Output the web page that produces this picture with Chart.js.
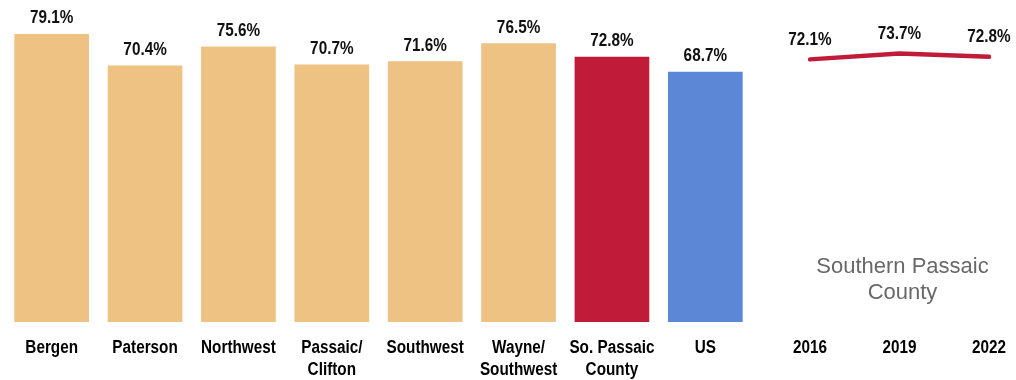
<!DOCTYPE html>
<html>
<head>
<meta charset="utf-8">
<script src="https://cdn.jsdelivr.net/npm/chart.js@4.4.0/dist/chart.umd.min.js"></script>
<style>
  body { margin: 0; background: #fff; }
  #wrap { position: relative; width: 1016px; height: 380px; }
  #graficoBarras { position: absolute; left: 0; top: 0; }
  #graficoLinha { position: absolute; left: 760px; top: 0; }
</style>
</head>
<body>
<div id="wrap">
  <canvas id="graficoBarras" width="760" height="380"></canvas>
  <canvas id="graficoLinha" width="256" height="380"></canvas>
</div>
<script>
// dados
const regioes = ['Bergen', 'Paterson', 'Northwest', ['Passaic/', 'Clifton'], 'Southwest', ['Wayne/', 'Southwest'], ['So. Passaic', 'County'], 'US'];
const taxas = [79.1, 70.4, 75.6, 70.7, 71.6, 76.5, 72.8, 68.7];
const coresBarras = ['#EDC283', '#EDC283', '#EDC283', '#EDC283', '#EDC283', '#EDC283', '#C01C3A', '#5B87D6'];
const anos = ['2016', '2019', '2022'];
const taxasSoPassaic = [72.1, 73.7, 72.8];
const tituloLinha = ['Southern Passaic', 'County'];

const fonte = "'Liberation Sans', Arial, sans-serif";
const estreito = 0.85; // fonte do original é condensada
const yMax = 88.4;
const alturaEixo = 58;

function textoEstreito(ctx, texto, x, y) {
    ctx.save();
    ctx.translate(x, y);
    ctx.scale(estreito, 1);
    ctx.fillText(texto, 0, 0);
    ctx.restore();
}

// rótulos de valor acima das marcas
const rotulos = {
    id: 'rotulos',
    afterDatasetsDraw(chart, args, opts) {
        const ctx = chart.ctx;
        ctx.save();
        ctx.font = 'bold 18px ' + fonte;
        ctx.fillStyle = '#111';
        ctx.textAlign = 'center';
        ctx.textBaseline = 'alphabetic';
        const valores = chart.data.datasets[0].data;
        chart.getDatasetMeta(0).data.forEach((el, i) => {
            textoEstreito(ctx, valores[i].toFixed(1) + '%', el.x, el.y - opts.offset);
        });
        ctx.restore();
    }
};

// rótulos do eixo x (desenhados à mão para ficarem condensados)
const rotulosEixo = {
    id: 'rotulosEixo',
    afterDraw(chart) {
        const ctx = chart.ctx;
        const escala = chart.scales.x;
        const base = chart.chartArea.bottom;
        ctx.save();
        ctx.font = 'bold 18px ' + fonte;
        ctx.fillStyle = '#000';
        ctx.textAlign = 'center';
        ctx.textBaseline = 'alphabetic';
        chart.data.labels.forEach((rotulo, i) => {
            const x = escala.getPixelForValue(i);
            const linhas = Array.isArray(rotulo) ? rotulo : [rotulo];
            linhas.forEach((linha, j) => {
                textoEstreito(ctx, linha, x, base + 31 + j * 21.5);
            });
        });
        ctx.restore();
    }
};

// texto cinza no gráfico de linha
const legendaTexto = {
    id: 'legendaTexto',
    afterDraw(chart) {
        const ctx = chart.ctx;
        const area = chart.chartArea;
        ctx.save();
        ctx.font = "22px 'Liberation Sans', Arial, sans-serif";
        ctx.fillStyle = '#686868';
        ctx.textAlign = 'center';
        ctx.textBaseline = 'middle';
        const x = (area.left + area.right) / 2 + 3;
        ctx.fillText(tituloLinha[0], x, area.bottom - 55);
        ctx.fillText(tituloLinha[1], x, area.bottom - 29);
        ctx.restore();
    }
};

const eixoX = {
    grid: { display: false, drawTicks: false },
    border: { display: false },
    ticks: { display: false },
    afterFit: (axis) => { axis.height = alturaEixo; }
};

new Chart(document.getElementById('graficoBarras'), {
    type: 'bar',
    data: {
        labels: regioes,
        datasets: [{
            data: taxas,
            backgroundColor: coresBarras,
            categoryPercentage: 0.8,
            barPercentage: 1.0
        }]
    },
    options: {
        responsive: false,
        animation: false,
        layout: { padding: { left: 5, right: 8, top: 0, bottom: 0 } },
        plugins: {
            legend: { display: false },
            tooltip: { enabled: false },
            rotulos: { offset: 10.5 }
        },
        scales: {
            x: eixoX,
            y: { display: false, min: 0, max: yMax }
        }
    },
    plugins: [rotulos, rotulosEixo]
});

new Chart(document.getElementById('graficoLinha'), {
    type: 'line',
    data: {
        labels: anos,
        datasets: [{
            data: taxasSoPassaic,
            borderColor: '#C01C3A',
            borderWidth: 4.5,
            borderCapStyle: 'round',
            borderJoinStyle: 'round',
            pointRadius: 0,
            tension: 0,
            fill: false
        }]
    },
    options: {
        responsive: false,
        animation: false,
        layout: { padding: { left: 50, right: 27, top: 0, bottom: 0 } },
        plugins: {
            legend: { display: false },
            tooltip: { enabled: false },
            rotulos: { offset: 14.5 }
        },
        scales: {
            x: Object.assign({}, eixoX, { offset: false }),
            y: { display: false, min: 0, max: yMax }
        }
    },
    plugins: [rotulos, rotulosEixo, legendaTexto]
});
</script>
</body>
</html>
